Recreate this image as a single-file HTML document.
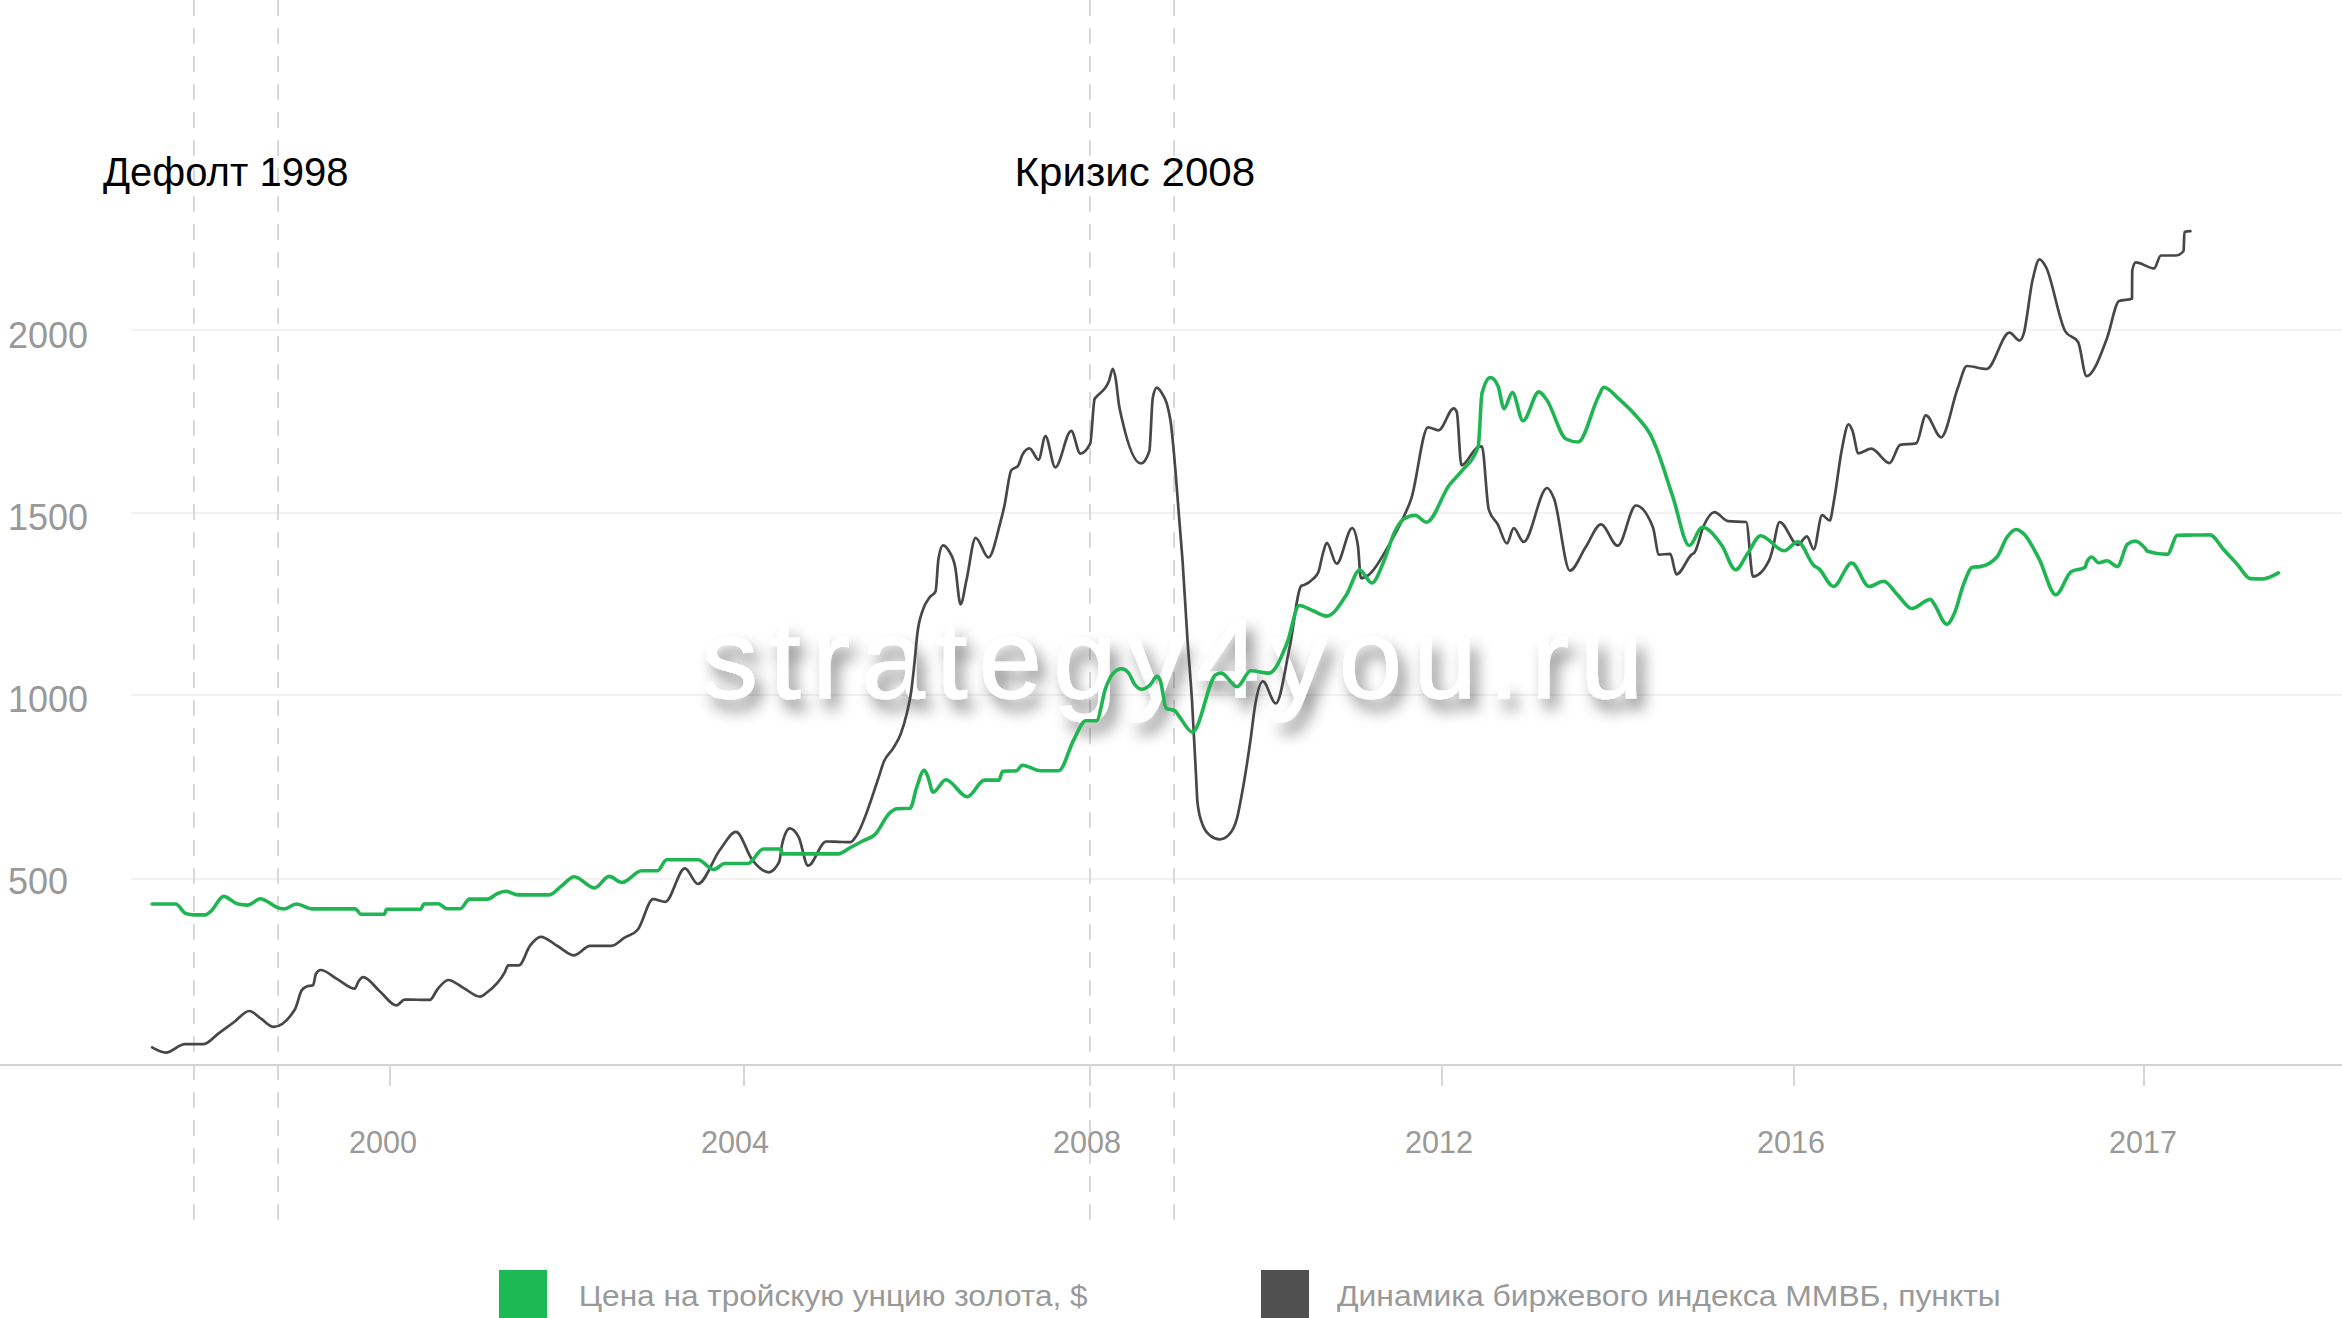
<!DOCTYPE html>
<html><head><meta charset="utf-8">
<style>
html,body{margin:0;padding:0;background:#fff;}
body{width:2342px;height:1318px;overflow:hidden;position:relative;font-family:"Liberation Sans", sans-serif;}
svg{position:absolute;left:0;top:0;}
</style></head><body>
<svg width="2342" height="1318" viewBox="0 0 2342 1318">
<g stroke="#f2f2f2" stroke-width="2">
<line x1="131" y1="330" x2="2342" y2="330"/>
<line x1="131" y1="513" x2="2342" y2="513"/>
<line x1="131" y1="695" x2="2342" y2="695"/>
<line x1="131" y1="879" x2="2342" y2="879"/>
</g>
<g stroke="#d9d9d9" stroke-width="2" stroke-dasharray="16 12">
<line x1="194" y1="0" x2="194" y2="1220"/>
<line x1="278" y1="0" x2="278" y2="1220"/>
<line x1="1090" y1="0" x2="1090" y2="1220"/>
<line x1="1174" y1="0" x2="1174" y2="1220"/>
</g>
<line x1="0" y1="1065" x2="2342" y2="1065" stroke="#d3d3d3" stroke-width="2"/>
<g stroke="#d6d6d6" stroke-width="2">
<line x1="390" y1="1065" x2="390" y2="1086"/>
<line x1="744" y1="1065" x2="744" y2="1086"/>
<line x1="1090" y1="1065" x2="1090" y2="1086"/>
<line x1="1442" y1="1065" x2="1442" y2="1086"/>
<line x1="1794" y1="1065" x2="1794" y2="1086"/>
<line x1="2144" y1="1065" x2="2144" y2="1086"/>
</g>
<g fill="#999999" font-family='"Liberation Sans", sans-serif' font-size="36">
<text x="8" y="348">2000</text>
<text x="8" y="530">1500</text>
<text x="8" y="712">1000</text>
<text x="8" y="894">500</text>
</g>
<g fill="#999999" font-family='"Liberation Sans", sans-serif' font-size="32" text-anchor="middle">
<text x="383" y="1153" textLength="68" lengthAdjust="spacingAndGlyphs">2000</text>
<text x="735" y="1153" textLength="68" lengthAdjust="spacingAndGlyphs">2004</text>
<text x="1087" y="1153" textLength="68" lengthAdjust="spacingAndGlyphs">2008</text>
<text x="1439" y="1153" textLength="68" lengthAdjust="spacingAndGlyphs">2012</text>
<text x="1791" y="1153" textLength="68" lengthAdjust="spacingAndGlyphs">2016</text>
<text x="2143" y="1153" textLength="68" lengthAdjust="spacingAndGlyphs">2017</text>
</g>
<g fill="#000" font-family='"Liberation Sans", sans-serif' font-size="40">
<text x="103" y="186">Дефолт 1998</text>
<text x="1014.5" y="186" textLength="240.7" lengthAdjust="spacingAndGlyphs">Кризис 2008</text>
</g>
<rect x="499" y="1270" width="48" height="48" fill="#1db954"/>
<rect x="1261" y="1270" width="48" height="48" fill="#505050"/>
<g fill="#999999" font-family='"Liberation Sans", sans-serif' font-size="30">
<text x="578.7" y="1306" textLength="509" lengthAdjust="spacingAndGlyphs">Цена на тройскую унцию золота, $</text>
<text x="1337" y="1306" textLength="663.7" lengthAdjust="spacingAndGlyphs">Динамика биржевого индекса ММВБ, пункты</text>
</g>
</svg>
<svg width="2342" height="1318" viewBox="0 0 2342 1318">
<defs><filter id="ds" x="-10%" y="-40%" width="120%" height="180%">
<feGaussianBlur in="SourceAlpha" stdDeviation="7.5"/>
<feOffset dx="7" dy="11" result="b"/>
<feFlood flood-color="#000" flood-opacity="0.45"/>
<feComposite in2="b" operator="in"/>
<feMerge><feMergeNode/><feMergeNode in="SourceGraphic"/></feMerge>
</filter></defs>
<text x="700.9" y="698" letter-spacing="11.2" font-family='"Liberation Sans", sans-serif' font-size="114" fill="#fff" stroke="#fff" stroke-width="1" filter="url(#ds)">strategy4you.ru</text>
</svg>
<svg width="2342" height="1318" viewBox="0 0 2342 1318">
<path fill="none" stroke="#474747" stroke-width="2.7" stroke-linejoin="round" stroke-linecap="round" d="M152.10,1047.40 C156.67,1050.05 161.23,1052.70 165.80,1052.70 C172.13,1052.70 178.47,1044.10 184.80,1044.10 C191.10,1044.10 197.40,1044.10 203.70,1044.10 C208.77,1044.10 213.83,1036.74 218.90,1033.07 C223.97,1029.39 229.03,1025.71 234.10,1022.03 C239.17,1018.36 244.23,1011.00 249.30,1011.00 C253.33,1011.00 257.37,1016.30 261.40,1018.95 C265.43,1021.60 269.47,1026.90 273.50,1026.90 C280.60,1026.90 287.70,1021.10 294.80,1009.50 C297.07,1005.80 299.33,994.17 301.60,990.50 C303.13,988.02 304.67,987.38 306.20,986.70 C308.47,985.70 310.73,986.20 313.00,985.20 C314.00,984.76 315.00,975.45 316.00,973.80 C317.53,971.27 319.07,970.00 320.60,970.00 C326.28,970.00 331.97,976.23 337.65,979.35 C343.33,982.47 349.02,988.70 354.70,988.70 C355.97,988.70 357.23,983.27 358.50,981.40 C360.03,979.14 361.57,977.10 363.10,977.10 C368.65,977.10 374.20,986.53 379.75,991.25 C385.30,995.97 390.85,1005.40 396.40,1005.40 C399.20,1005.40 402.00,999.60 404.80,999.60 C408.97,999.60 413.13,999.70 417.30,999.75 C421.47,999.80 425.63,999.90 429.80,999.90 C432.37,999.90 434.93,992.29 437.50,989.30 C441.07,985.15 444.63,980.00 448.20,980.00 C453.50,980.00 458.80,985.57 464.10,988.35 C469.40,991.13 474.70,996.70 480.00,996.70 C482.30,996.70 484.60,994.24 486.90,992.50 C492.93,987.94 498.97,983.09 505.00,971.80 C506.07,969.80 507.13,965.40 508.20,965.40 C511.73,965.40 515.27,965.40 518.80,965.40 C522.60,965.40 526.40,950.21 530.20,945.40 C533.73,940.93 537.27,936.80 540.80,936.80 C546.37,936.80 551.93,942.97 557.50,946.05 C563.07,949.13 568.63,955.30 574.20,955.30 C579.50,955.30 584.80,945.90 590.10,945.90 C597.17,945.90 604.23,945.90 611.30,945.90 C615.73,945.90 620.17,940.43 624.60,937.70 C629.03,934.97 633.47,934.97 637.90,929.50 C642.97,923.25 648.03,899.10 653.10,899.10 C657.13,899.10 661.17,901.90 665.20,901.90 C671.77,901.90 678.33,868.30 684.90,868.30 C689.20,868.30 693.50,883.90 697.80,883.90 C705.20,883.90 712.60,859.40 720.00,849.80 C725.30,842.93 730.60,831.90 735.90,831.90 C741.47,831.90 747.03,853.64 752.60,860.40 C757.93,866.88 763.27,872.30 768.60,872.30 C772.13,872.30 775.67,868.83 779.20,861.90 C780.20,859.94 781.20,847.75 782.20,843.70 C784.73,833.43 787.27,828.30 789.80,828.30 C792.83,828.30 795.87,831.47 798.90,837.70 C801.93,843.93 804.97,865.70 808.00,865.70 C814.07,865.70 820.13,841.50 826.20,841.50 C830.25,841.50 834.30,841.73 838.35,841.85 C842.40,841.97 846.45,842.20 850.50,842.20 C852.03,842.20 853.57,839.60 855.10,837.70 C862.67,828.30 870.23,802.05 877.80,780.00 C879.87,773.98 881.93,766.19 884.00,761.30 C887.03,754.12 890.07,753.49 893.10,748.40 C895.63,744.15 898.17,740.86 900.70,734.00 C902.73,728.49 904.77,722.30 906.80,713.50 C908.30,707.01 909.80,701.71 911.30,690.80 C912.33,683.29 913.37,673.30 914.40,663.50 C915.40,654.02 916.40,641.13 917.40,633.10 C919.17,618.92 920.93,616.03 922.70,610.30 C924.97,602.95 927.23,600.71 929.50,597.50 C931.53,594.62 933.57,595.47 935.60,591.40 C936.53,589.53 937.47,564.66 938.40,559.10 C939.93,549.97 941.47,545.40 943.00,545.40 C944.77,545.40 946.53,547.25 948.30,550.00 C950.57,553.53 952.83,555.54 955.10,566.60 C956.93,575.55 958.77,604.30 960.60,604.30 C962.57,604.30 964.53,588.50 966.50,580.00 C969.53,566.89 972.57,537.80 975.60,537.80 C979.90,537.80 984.20,557.50 988.50,557.50 C992.30,557.50 996.10,538.42 999.90,524.20 C1001.40,518.59 1002.90,512.65 1004.40,505.90 C1006.70,495.55 1009.00,473.41 1011.30,470.30 C1013.57,467.23 1015.83,468.77 1018.10,465.70 C1019.60,463.67 1021.10,457.05 1022.60,454.40 C1024.90,450.33 1027.20,448.30 1029.50,448.30 C1032.53,448.30 1035.57,459.70 1038.60,459.70 C1040.87,459.70 1043.13,436.10 1045.40,436.10 C1048.70,436.10 1052.00,467.30 1055.30,467.30 C1060.60,467.30 1065.90,430.80 1071.20,430.80 C1074.23,430.80 1077.27,453.60 1080.30,453.60 C1083.60,453.60 1086.90,450.30 1090.20,443.70 C1091.67,440.77 1093.13,402.32 1094.60,398.90 C1095.20,397.50 1095.80,397.51 1096.40,396.80 C1100.63,391.81 1104.87,391.43 1109.10,380.70 C1110.33,377.57 1111.57,368.80 1112.80,368.80 C1113.80,368.80 1114.80,373.68 1115.80,379.50 C1116.80,385.32 1117.80,397.17 1118.80,403.70 C1119.93,411.10 1121.07,415.00 1122.20,420.00 C1128.47,447.66 1134.73,463.50 1141.00,463.50 C1143.77,463.50 1146.53,459.43 1149.30,451.30 C1150.47,447.87 1151.63,403.59 1152.80,397.70 C1154.13,390.97 1155.47,387.60 1156.80,387.60 C1158.30,387.60 1159.80,389.95 1161.30,392.20 C1163.13,394.96 1164.97,397.17 1166.80,403.70 C1168.00,407.98 1169.20,412.34 1170.40,420.00 C1173.60,440.42 1176.80,489.43 1180.00,528.70 C1180.83,538.93 1181.67,548.60 1182.50,560.00 C1184.17,582.80 1185.83,615.54 1187.50,640.00 C1189.00,662.02 1190.50,676.37 1192.00,700.70 C1193.33,722.33 1194.67,750.87 1196.00,775.30 C1196.50,784.46 1197.00,798.25 1197.50,802.60 C1199.20,817.40 1200.90,820.08 1202.60,824.80 C1205.27,832.20 1207.93,833.85 1210.60,835.90 C1213.63,838.23 1216.67,839.40 1219.70,839.40 C1222.73,839.40 1225.77,837.90 1228.80,834.90 C1231.50,832.23 1234.20,828.83 1236.90,818.70 C1238.90,811.20 1240.90,799.66 1242.90,788.40 C1245.43,774.13 1247.97,757.83 1250.50,740.00 C1252.10,728.74 1253.70,713.37 1255.30,704.20 C1257.83,689.68 1260.37,681.40 1262.90,681.40 C1267.20,681.40 1271.50,703.40 1275.80,703.40 C1280.37,703.40 1284.93,669.38 1289.50,648.00 C1293.47,629.43 1297.43,587.84 1301.40,585.70 C1302.27,585.23 1303.13,585.31 1304.00,585.00 C1307.03,583.91 1310.07,582.11 1313.10,578.90 C1314.87,577.03 1316.63,576.63 1318.40,572.10 C1319.93,568.17 1321.47,558.22 1323.00,553.10 C1324.27,548.87 1325.53,542.90 1326.80,542.90 C1330.07,542.90 1333.33,563.70 1336.60,563.70 C1341.80,563.70 1347.00,528.10 1352.20,528.10 C1354.10,528.10 1356.00,533.90 1357.90,545.50 C1358.90,551.61 1359.90,578.20 1360.90,578.20 C1363.43,578.20 1365.97,576.87 1368.50,575.10 C1375.20,570.43 1381.90,557.23 1388.60,545.70 C1393.63,537.04 1398.67,528.04 1403.70,516.80 C1406.23,511.14 1408.77,506.15 1411.30,498.60 C1416.87,482.01 1422.43,427.30 1428.00,427.30 C1431.53,427.30 1435.07,430.30 1438.60,430.30 C1443.67,430.30 1448.73,408.30 1453.80,408.30 C1454.80,408.30 1455.80,409.57 1456.80,412.10 C1458.33,415.98 1459.87,465.30 1461.40,465.30 C1466.97,465.30 1472.53,448.97 1478.10,447.00 C1479.37,446.55 1480.63,446.30 1481.90,446.30 C1484.17,446.30 1486.43,501.78 1488.70,509.30 C1491.73,519.37 1494.77,518.72 1497.80,524.40 C1500.83,530.08 1503.87,543.40 1506.90,543.40 C1509.17,543.40 1511.43,528.20 1513.70,528.20 C1517.00,528.20 1520.30,541.90 1523.60,541.90 C1531.43,541.90 1539.27,488.00 1547.10,488.00 C1549.40,488.00 1551.70,492.98 1554.00,498.60 C1559.30,511.55 1564.60,570.70 1569.90,570.70 C1575.08,570.70 1580.27,555.27 1585.45,547.55 C1590.63,539.83 1595.82,524.40 1601.00,524.40 C1606.57,524.40 1612.13,545.70 1617.70,545.70 C1623.77,545.70 1629.83,505.50 1635.90,505.50 C1641.57,505.50 1647.23,512.77 1652.90,527.30 C1654.93,532.51 1656.97,554.60 1659.00,554.60 C1662.77,554.60 1666.53,553.90 1670.30,553.90 C1672.33,553.90 1674.37,574.40 1676.40,574.40 C1681.47,574.40 1686.53,558.79 1691.60,554.60 C1692.60,553.77 1693.60,553.68 1694.60,552.40 C1697.63,548.53 1700.67,532.38 1703.70,525.80 C1707.27,518.07 1710.83,512.10 1714.40,512.10 C1718.93,512.10 1723.47,520.80 1728.00,521.20 C1734.07,521.73 1740.13,521.47 1746.20,522.00 C1748.47,522.20 1750.73,576.60 1753.00,576.60 C1758.33,576.60 1763.67,571.30 1769.00,560.70 C1770.00,558.71 1771.00,554.88 1772.00,551.60 C1774.53,543.30 1777.07,522.00 1779.60,522.00 C1785.67,522.00 1791.73,544.80 1797.80,544.80 C1800.83,544.80 1803.87,536.40 1806.90,536.40 C1809.17,536.40 1811.43,549.30 1813.70,549.30 C1816.50,549.30 1819.30,515.20 1822.10,515.20 C1824.63,515.20 1827.17,520.50 1829.70,520.50 C1831.17,520.50 1832.63,507.85 1834.10,500.00 C1836.63,486.44 1839.17,463.06 1841.70,450.20 C1844.00,438.52 1846.30,424.40 1848.60,424.40 C1849.87,424.40 1851.13,427.39 1852.40,430.50 C1854.40,435.41 1856.40,453.30 1858.40,453.30 C1862.70,453.30 1867.00,448.70 1871.30,448.70 C1877.37,448.70 1883.43,463.10 1889.50,463.10 C1893.07,463.10 1896.63,445.57 1900.20,444.90 C1905.50,443.90 1910.80,444.40 1916.10,443.40 C1919.37,442.78 1922.63,415.30 1925.90,415.30 C1930.97,415.30 1936.03,437.30 1941.10,437.30 C1946.67,437.30 1952.23,402.51 1957.80,388.00 C1960.83,380.09 1963.87,366.00 1966.90,366.00 C1973.47,366.00 1980.03,369.00 1986.60,369.00 C1994.20,369.00 2001.80,332.60 2009.40,332.60 C2012.83,332.60 2016.27,340.50 2019.70,340.50 C2020.97,340.50 2022.23,338.07 2023.50,334.40 C2026.53,325.60 2029.57,292.77 2032.60,279.80 C2034.90,269.96 2037.20,259.30 2039.50,259.30 C2041.50,259.30 2043.50,262.83 2045.50,266.10 C2052.10,276.90 2058.70,320.47 2065.30,331.40 C2069.57,338.47 2073.83,334.93 2078.10,342.00 C2080.90,346.64 2083.70,376.20 2086.50,376.20 C2093.33,376.20 2100.17,356.11 2107.00,338.20 C2111.03,327.63 2115.07,302.38 2119.10,301.00 C2123.40,299.53 2127.70,300.27 2132.00,298.80 C2132.07,298.78 2132.13,271.01 2132.20,270.70 C2133.40,265.17 2134.60,262.40 2135.80,262.40 C2141.87,262.40 2147.93,268.40 2154.00,268.40 C2156.30,268.40 2158.60,255.50 2160.90,255.50 C2165.93,255.50 2170.97,255.50 2176.00,255.50 C2178.53,255.50 2181.07,254.00 2183.60,251.00 C2183.87,250.68 2184.13,232.07 2184.40,232.00 C2186.40,231.47 2188.40,231.33 2190.40,231.20"/>
<path fill="none" stroke="#1fb552" stroke-width="3.6" stroke-linejoin="round" stroke-linecap="round" d="M152.10,904.00 C159.97,904.00 167.83,904.00 175.70,904.00 C178.97,904.00 182.23,912.23 185.50,913.40 C188.30,914.40 191.10,914.90 193.90,914.90 C197.70,914.90 201.50,914.90 205.30,914.90 C207.30,914.90 209.30,912.49 211.30,910.80 C215.37,907.35 219.43,896.40 223.50,896.40 C228.03,896.40 232.57,902.50 237.10,903.70 C240.63,904.63 244.17,905.10 247.70,905.10 C249.23,905.10 250.77,903.94 252.30,903.20 C254.83,901.98 257.37,898.70 259.90,898.70 C266.47,898.70 273.03,907.00 279.60,908.30 C281.13,908.60 282.67,908.90 284.20,908.90 C288.23,908.90 292.27,904.00 296.30,904.00 C301.60,904.00 306.90,908.90 312.20,908.90 C317.01,908.90 321.82,908.90 326.63,908.90 C331.44,908.90 336.26,908.90 341.07,908.90 C345.88,908.90 350.69,908.90 355.50,908.90 C357.27,908.90 359.03,914.30 360.80,914.30 C368.63,914.30 376.47,914.30 384.30,914.30 C385.07,914.30 385.83,909.30 386.60,909.30 C392.28,909.30 397.97,909.30 403.65,909.30 C409.33,909.30 415.02,909.30 420.70,909.30 C421.73,909.30 422.77,904.04 423.80,904.00 C428.63,903.80 433.47,903.70 438.30,903.70 C441.10,903.70 443.90,908.70 446.70,908.70 C451.23,908.70 455.77,908.70 460.30,908.70 C463.37,908.70 466.43,899.10 469.50,899.10 C475.57,899.10 481.63,899.10 487.70,899.10 C490.73,899.10 493.77,895.12 496.80,893.80 C499.83,892.48 502.87,891.20 505.90,891.20 C509.93,891.20 513.97,894.90 518.00,894.90 C523.18,894.90 528.37,894.90 533.55,894.90 C538.73,894.90 543.92,894.90 549.10,894.90 C553.28,894.90 557.47,888.87 561.65,885.85 C565.83,882.83 570.02,876.80 574.20,876.80 C581.00,876.80 587.80,888.00 594.60,888.00 C599.43,888.00 604.27,876.40 609.10,876.40 C613.40,876.40 617.70,882.40 622.00,882.40 C628.57,882.40 635.13,870.70 641.70,870.70 C647.00,870.70 652.30,870.70 657.60,870.70 C660.63,870.70 663.67,859.70 666.70,859.70 C671.88,859.70 677.07,859.70 682.25,859.70 C687.43,859.70 692.62,859.70 697.80,859.70 C703.13,859.70 708.47,869.50 713.80,869.50 C717.40,869.50 721.00,863.50 724.60,863.50 C732.43,863.50 740.27,863.50 748.10,863.50 C753.13,863.50 758.17,849.00 763.20,849.00 C769.03,849.00 774.87,849.00 780.70,849.00 C781.20,849.00 781.70,853.90 782.20,853.90 C786.88,853.90 791.57,853.90 796.25,853.90 C800.93,853.90 805.62,853.90 810.30,853.90 C814.98,853.90 819.67,853.90 824.35,853.90 C829.03,853.90 833.72,853.90 838.40,853.90 C842.44,853.90 846.49,849.61 850.53,847.47 C854.58,845.32 858.62,843.18 862.67,841.03 C866.71,838.89 870.76,838.39 874.80,834.60 C879.87,829.85 884.93,816.87 890.00,812.60 C892.27,810.69 894.53,808.84 896.80,808.70 C901.23,808.43 905.67,808.57 910.10,808.30 C912.23,808.17 914.37,793.73 916.50,787.80 C919.07,780.66 921.63,770.30 924.20,770.30 C925.33,770.30 926.47,773.47 927.60,775.90 C929.43,779.83 931.27,792.10 933.10,792.10 C937.37,792.10 941.63,779.70 945.90,779.70 C953.03,779.70 960.17,796.80 967.30,796.80 C973.00,796.80 978.70,780.10 984.40,780.10 C989.23,780.10 994.07,780.10 998.90,780.10 C1000.17,780.10 1001.43,771.29 1002.70,771.20 C1007.27,770.87 1011.83,771.03 1016.40,770.70 C1018.40,770.55 1020.40,765.20 1022.40,765.20 C1028.37,765.20 1034.33,770.70 1040.30,770.70 C1046.43,770.70 1052.57,770.70 1058.70,770.70 C1063.70,770.70 1068.70,748.96 1073.70,740.00 C1077.73,732.77 1081.77,720.80 1085.80,720.80 C1089.33,720.80 1092.87,720.80 1096.40,720.80 C1099.43,720.80 1102.47,696.79 1105.50,688.60 C1108.03,681.76 1110.57,676.17 1113.10,673.40 C1115.90,670.33 1118.70,668.80 1121.50,668.80 C1123.77,668.80 1126.03,670.07 1128.30,672.60 C1130.33,674.87 1132.37,681.26 1134.40,684.00 C1136.90,687.37 1139.40,689.30 1141.90,689.30 C1144.70,689.30 1147.50,687.38 1150.30,684.80 C1152.57,682.71 1154.83,676.40 1157.10,676.40 C1158.13,676.40 1159.17,677.72 1160.20,680.20 C1162.20,685.01 1164.20,707.20 1166.20,708.30 C1169.00,709.83 1171.80,709.07 1174.60,710.60 C1176.37,711.57 1178.13,715.19 1179.90,717.40 C1184.07,722.62 1188.23,732.20 1192.40,732.20 C1200.23,732.20 1208.07,679.03 1215.90,674.60 C1217.67,673.60 1219.43,673.10 1221.20,673.10 C1226.50,673.10 1231.80,686.70 1237.10,686.70 C1241.67,686.70 1246.23,670.80 1250.80,670.80 C1256.87,670.80 1262.93,673.10 1269.00,673.10 C1275.07,673.10 1281.13,657.95 1287.20,642.70 C1291.23,632.56 1295.27,605.50 1299.30,605.50 C1303.85,605.50 1308.40,609.03 1312.95,610.80 C1317.50,612.57 1322.05,616.10 1326.60,616.10 C1333.20,616.10 1339.80,605.13 1346.40,594.90 C1350.83,588.03 1355.27,570.00 1359.70,570.00 C1363.77,570.00 1367.83,582.90 1371.90,582.90 C1375.93,582.90 1379.97,570.08 1384.00,560.80 C1387.53,552.67 1391.07,539.13 1394.60,532.00 C1397.63,525.88 1400.67,521.12 1403.70,519.10 C1407.50,516.57 1411.30,515.30 1415.10,515.30 C1418.90,515.30 1422.70,522.20 1426.50,522.20 C1434.10,522.20 1441.70,494.92 1449.30,485.00 C1453.33,479.74 1457.37,476.45 1461.40,471.30 C1467.00,464.15 1472.60,463.03 1478.20,446.50 C1479.47,442.76 1480.73,398.25 1482.00,393.40 C1484.77,382.80 1487.53,377.50 1490.30,377.50 C1492.83,377.50 1495.37,380.27 1497.90,385.80 C1499.93,390.24 1501.97,408.60 1504.00,408.60 C1506.80,408.60 1509.60,392.60 1512.40,392.60 C1515.93,392.60 1519.47,420.70 1523.00,420.70 C1528.30,420.70 1533.60,391.90 1538.90,391.90 C1541.43,391.90 1543.97,396.24 1546.50,399.50 C1553.00,407.87 1559.50,435.75 1566.00,439.00 C1570.00,441.00 1574.00,442.00 1578.00,442.00 C1584.90,442.00 1591.80,408.65 1598.70,396.00 C1600.37,392.94 1602.03,387.30 1603.70,387.30 C1608.73,387.30 1613.77,394.43 1618.80,398.80 C1625.07,404.24 1631.33,410.11 1637.60,417.60 C1641.93,422.78 1646.27,426.27 1650.60,434.90 C1652.50,438.68 1654.40,443.24 1656.30,447.90 C1661.80,461.40 1667.30,480.43 1672.80,496.70 C1678.30,512.97 1683.80,545.50 1689.30,545.50 C1693.60,545.50 1697.90,527.30 1702.20,527.30 C1708.77,527.30 1715.33,536.14 1721.90,545.50 C1726.47,552.01 1731.03,569.80 1735.60,569.80 C1739.77,569.80 1743.93,558.43 1748.10,552.75 C1752.27,547.07 1756.43,535.70 1760.60,535.70 C1768.47,535.70 1776.33,550.80 1784.20,550.80 C1788.73,550.80 1793.27,541.70 1797.80,541.70 C1803.10,541.70 1808.40,560.59 1813.70,565.30 C1815.50,566.90 1817.30,567.51 1819.10,569.00 C1823.90,572.98 1828.70,586.50 1833.50,586.50 C1839.57,586.50 1845.63,563.00 1851.70,563.00 C1857.50,563.00 1863.30,586.50 1869.10,586.50 C1873.93,586.50 1878.77,581.20 1883.60,581.20 C1888.27,581.20 1892.93,590.30 1897.60,594.85 C1902.27,599.40 1906.93,608.50 1911.60,608.50 C1917.93,608.50 1924.27,599.40 1930.60,599.40 C1931.77,599.40 1932.93,602.25 1934.10,603.80 C1938.37,609.47 1942.63,624.20 1946.90,624.20 C1949.47,624.20 1952.03,618.53 1954.60,612.70 C1957.57,605.96 1960.53,592.06 1963.50,584.50 C1966.50,576.85 1969.50,567.67 1972.50,567.20 C1975.07,566.80 1977.63,567.00 1980.20,566.60 C1985.77,565.73 1991.33,563.40 1996.90,557.00 C2000.30,553.09 2003.70,541.73 2007.10,537.10 C2010.10,533.01 2013.10,529.50 2016.10,529.50 C2018.67,529.50 2021.23,531.52 2023.80,533.90 C2028.90,538.63 2034.00,549.31 2039.10,558.90 C2044.67,569.37 2050.23,594.80 2055.80,594.80 C2060.90,594.80 2066.00,574.96 2071.10,571.70 C2075.80,568.70 2080.50,570.20 2085.20,567.20 C2085.63,566.92 2086.07,563.79 2086.50,562.80 C2088.20,558.93 2089.90,557.00 2091.60,557.00 C2093.97,557.00 2096.33,562.80 2098.70,562.80 C2101.47,562.80 2104.23,560.80 2107.00,560.80 C2110.43,560.80 2113.87,566.60 2117.30,566.60 C2120.70,566.60 2124.10,547.03 2127.50,544.20 C2130.07,542.07 2132.63,541.00 2135.20,541.00 C2138.60,541.00 2142.00,544.73 2145.40,548.70 C2146.07,549.48 2146.73,550.98 2147.40,551.20 C2154.00,553.33 2160.60,554.40 2167.20,554.40 C2170.63,554.40 2174.07,535.26 2177.50,535.20 C2182.93,535.10 2188.37,535.10 2193.80,535.05 C2199.23,535.00 2204.67,534.90 2210.10,534.90 C2214.58,534.90 2219.06,544.61 2223.53,549.47 C2228.01,554.32 2232.49,559.18 2236.97,564.03 C2241.44,568.89 2245.92,578.29 2250.40,578.60 C2254.27,578.87 2258.13,579.00 2262.00,579.00 C2267.47,579.00 2272.93,575.90 2278.40,572.80"/>
</svg>
</body></html>
